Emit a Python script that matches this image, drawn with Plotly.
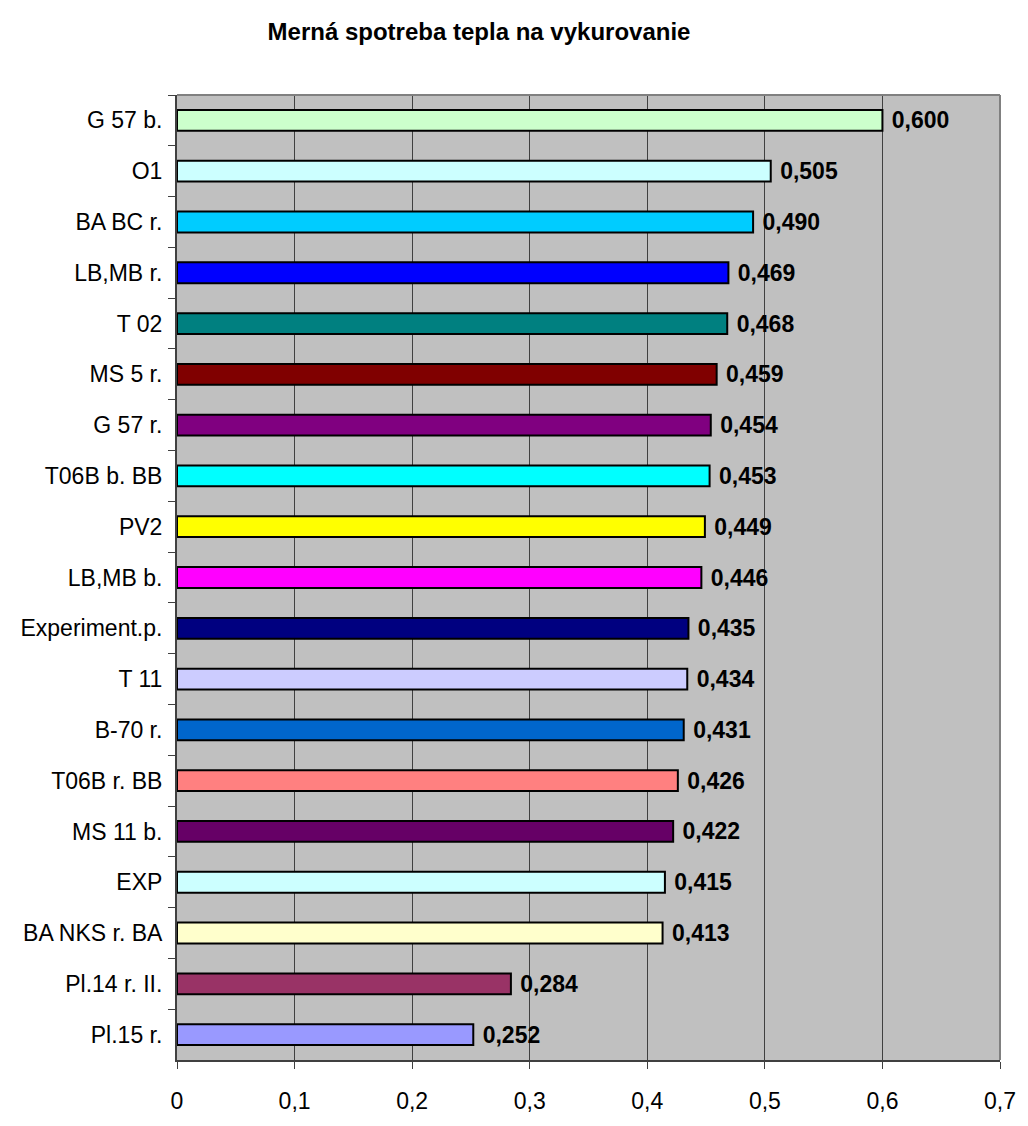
import plotly.graph_objects as go

categories = ["G 57 b.", "O1", "BA BC r.", "LB,MB r.", "T 02", "MS 5 r.", "G 57 r.",
              "T06B b. BB", "PV2", "LB,MB b.", "Experiment.p.", "T 11", "B-70 r.",
              "T06B r. BB", "MS 11 b.", "EXP", "BA NKS r. BA", "Pl.14 r. II.", "Pl.15 r."]
values = [0.600, 0.505, 0.490, 0.469, 0.468, 0.459, 0.454, 0.453, 0.449, 0.446,
          0.435, 0.434, 0.431, 0.426, 0.422, 0.415, 0.413, 0.284, 0.252]
colors = ["#CCFFCC", "#CCFFFF", "#00CCFF", "#0000FF", "#008080", "#800000", "#800080",
          "#00FFFF", "#FFFF00", "#FF00FF", "#000080", "#CCCCFF", "#0066CC",
          "#FF8080", "#660066", "#CCFFFF", "#FFFFCC", "#993366", "#9999FF"]
x_ticks = [0, 0.1, 0.2, 0.3, 0.4, 0.5, 0.6, 0.7]
title = "Merná spotreba tepla na vykurovanie"

FONT = "Arial, Liberation Sans, sans-serif"

fig = go.Figure(go.Bar(
    x=values, y=categories, orientation="h",
    marker=dict(color=colors, line=dict(color="black", width=2)),
    texttemplate=" %{x:.3f}", textposition="outside", cliponaxis=False,
    constraintext="none",
    textfont=dict(family=FONT, size=23, color="black", weight="bold"),
    width=0.41,
))

fig.update_layout(
    width=1028, height=1126,
    margin=dict(l=177, r=18, t=95, b=45),
    paper_bgcolor="white", plot_bgcolor="#C0C0C0",
    separators=", ",
    showlegend=False,
    title=dict(text=title, x=479/1028, xref="container", xanchor="center",
               y=1-32/1126, yref="container", yanchor="middle",
               font=dict(family=FONT, size=24, color="black", weight="bold")),
    xaxis=dict(range=[0, 0.7], tickvals=x_ticks, showgrid=True, gridcolor="#404040", gridwidth=1,
               zeroline=False, showline=True, linecolor="#404040", linewidth=2,
               ticks="outside", ticklen=7, tickcolor="#404040", ticklabelstandoff=12,
               tickfont=dict(family=FONT, size=23, color="black")),
    yaxis=dict(autorange=False, range=[18.5, -0.5], showgrid=False, zeroline=False,
               showline=True, linecolor="#404040", linewidth=2,
               ticks="outside", ticklen=7, tickcolor="#404040", tickson="boundaries",
               ticklabelstandoff=8,
               tickfont=dict(family=FONT, size=23, color="black")),
    shapes=[
        dict(type="line", xref="paper", yref="paper", x0=0, x1=1, y0=1, y1=1,
             line=dict(color="#808080", width=2)),
        dict(type="line", xref="paper", yref="paper", x0=1, x1=1, y0=0, y1=1,
             line=dict(color="#808080", width=2)),
    ],
)

fig.write_html("out.html")
